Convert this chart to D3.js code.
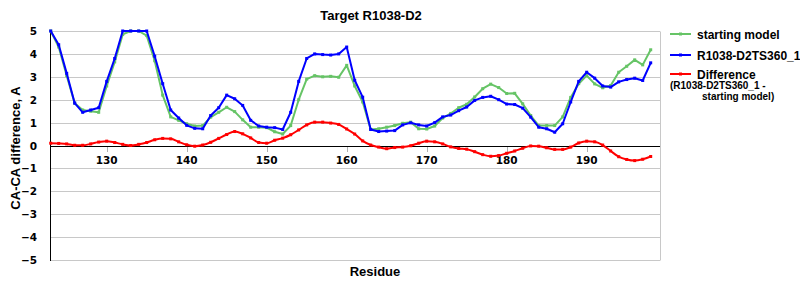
<!DOCTYPE html>
<html><head><meta charset="utf-8">
<script src="https://cdn.jsdelivr.net/npm/d3@7"></script>
<style>
body{margin:0;background:#fff;}
svg{display:block;}
</style></head>
<body>
<svg id="chart" width="800" height="300"></svg>
<script>
const startResidue = 123;
const starting = [5.0,4.3,3.05,1.85,1.55,1.5,1.45,2.6,3.65,4.85,5.0,5.0,4.8,3.7,2.2,1.25,1.1,0.95,0.85,0.87,1.24,1.45,1.67,1.48,1.12,0.8,0.8,0.78,0.6,0.5,0.87,2.0,2.9,3.05,3.0,3.02,2.98,3.5,2.6,1.9,0.7,0.73,0.8,0.87,0.97,1.02,0.73,0.72,0.85,1.2,1.4,1.65,1.8,2.12,2.48,2.68,2.53,2.27,2.28,1.82,1.31,0.87,0.87,0.87,1.25,2.1,2.7,3.05,2.69,2.52,2.62,3.2,3.46,3.74,3.52,4.18];
const model = [5.0,4.4,3.15,1.85,1.45,1.55,1.65,2.8,3.8,5.0,5.0,5.0,5.0,3.9,2.7,1.55,1.2,0.88,0.75,0.73,1.31,1.65,2.2,2.04,1.75,1.1,0.85,0.8,0.78,0.7,1.45,2.8,3.8,4.0,3.97,3.95,4.0,4.3,2.85,2.11,0.7,0.61,0.63,0.65,0.9,0.99,0.9,0.85,1.0,1.25,1.33,1.52,1.68,1.97,2.1,2.15,2.0,1.81,1.79,1.63,1.24,0.8,0.73,0.58,0.95,1.9,2.8,3.2,2.94,2.6,2.55,2.78,2.88,2.94,2.84,3.61];
const difference = [0.1,0.09,0.07,0.01,0.01,0.07,0.15,0.19,0.13,0.05,0.0,0.05,0.13,0.25,0.31,0.29,0.16,0.03,-0.03,0.02,0.14,0.31,0.48,0.61,0.51,0.33,0.13,0.1,0.23,0.32,0.47,0.68,0.9,1.02,1.02,0.98,0.92,0.72,0.5,0.2,0.02,-0.07,-0.14,-0.09,-0.07,-0.01,0.1,0.19,0.16,0.07,-0.06,-0.13,-0.16,-0.27,-0.4,-0.47,-0.44,-0.34,-0.24,-0.12,-0.02,-0.03,-0.1,-0.17,-0.17,-0.07,0.11,0.19,0.16,0.02,-0.24,-0.49,-0.61,-0.66,-0.6,-0.48];
const xTicks = [130,140,150,160,170,180,190];
const yTicks = [5,4,3,2,1,0,-1,-2,-3,-4,-5];
const seriesNames = ["starting model","R1038-D2TS360_1","Difference"];
const seriesColors = ["#66c466","#0000ff","#ff0000"];

(function(){
const svg = d3.select("#chart");
const pLeft = 50, pRight = 660, pTop = 31, pBottom = 260;
const x = d3.scaleLinear().domain([123, 199]).range([pLeft + 0.7, pLeft + 0.7 + 76*8]);
const y = d3.scaleLinear().domain([-5, 5]).range([pBottom, pTop]);

// grid
svg.append("g").selectAll("line").data(yTicks.filter(d => d !== 0)).join("line")
  .attr("x1", pLeft).attr("x2", pRight)
  .attr("y1", d => Math.round(y(d)) + 0.5).attr("y2", d => Math.round(y(d)) + 0.5)
  .attr("stroke", "#c8c8c8").attr("stroke-width", 1);
svg.append("line").attr("x1", pRight + 0.5).attr("x2", pRight + 0.5)
  .attr("y1", Math.round(y(5)) + 0.5).attr("y2", Math.round(y(-5)) + 0.5)
  .attr("stroke", "#c8c8c8");

// x ticks
svg.append("g").selectAll("line").data(xTicks).join("line")
  .attr("x1", d => Math.round(x(d)) + 0.5).attr("x2", d => Math.round(x(d)) + 0.5)
  .attr("y1", Math.round(y(0))).attr("y2", Math.round(y(0)) + 6)
  .attr("stroke", "#b0b0b0");
svg.append("g").selectAll("text").data(xTicks).join("text")
  .attr("x", d => x(d)).attr("y", Math.round(y(0)) + 18)
  .attr("text-anchor", "middle")
  .attr("font-family", "DejaVu Sans, Verdana, sans-serif").attr("font-weight", "bold").attr("font-size", "10.5px")
  .text(d => d);

// y labels
svg.append("g").selectAll("text").data(yTicks).join("text")
  .attr("x", 37).attr("y", d => y(d) + 4)
  .attr("text-anchor", "end")
  .attr("font-family", "DejaVu Sans, Verdana, sans-serif").attr("font-weight", "bold").attr("font-size", "10.5px")
  .text(d => d < 0 ? "\u2212" + Math.abs(d) : d);

// axes lines
svg.append("line").attr("x1", pLeft).attr("x2", pRight)
  .attr("y1", Math.round(y(0)) + 0.5).attr("y2", Math.round(y(0)) + 0.5)
  .attr("stroke", "#000");
svg.append("line").attr("x1", pLeft + 0.5).attr("x2", pLeft + 0.5)
  .attr("y1", Math.round(y(5))).attr("y2", Math.round(y(-5)) + 1)
  .attr("stroke", "#000");

// series
const datasets = [starting, model, difference];
const curves = [d3.curveLinear, d3.curveLinear, d3.curveMonotoneX];
datasets.forEach((vals, i) => {
  const pts = vals.map((v, k) => [startResidue + k, v]);
  const line = d3.line().x(d => x(d[0])).y(d => y(d[1])).curve(curves[i]);
  svg.append("path").datum(pts).attr("d", line)
    .attr("fill", "none").attr("stroke", seriesColors[i]).attr("stroke-width", 2)
    .attr("stroke-linejoin", "round");
  svg.append("g").selectAll("rect").data(pts).join("rect")
    .attr("x", d => x(d[0]) - 1.5).attr("y", d => y(d[1]) - 1.5)
    .attr("width", 3).attr("height", 3).attr("fill", seriesColors[i]);
});

// title
svg.append("text").attr("x", 371).attr("y", 20).attr("text-anchor", "middle")
  .attr("font-family", "Liberation Sans, Arial, sans-serif").attr("font-weight", "bold").attr("font-size", "13px")
  .text("Target R1038-D2");
// axis titles
svg.append("text").attr("x", 375).attr("y", 276).attr("text-anchor", "middle")
  .attr("font-family", "Liberation Sans, Arial, sans-serif").attr("font-weight", "bold").attr("font-size", "13px")
  .text("Residue");
svg.append("text").attr("transform", "translate(20,148) rotate(-90)").attr("text-anchor", "middle")
  .attr("font-family", "Liberation Sans, Arial, sans-serif").attr("font-weight", "bold").attr("font-size", "13px")
  .text("CA-CA difference, A");

// legend
const legY = [34, 55, 74];
const leg = svg.append("g");
seriesNames.forEach((name, i) => {
  leg.append("line").attr("x1", 670).attr("x2", 691).attr("y1", legY[i]).attr("y2", legY[i])
    .attr("stroke", seriesColors[i]).attr("stroke-width", 2);
  leg.append("rect").attr("x", 679).attr("y", legY[i] - 1.5).attr("width", 3).attr("height", 3).attr("fill", seriesColors[i]);
  leg.append("text").attr("x", 697).attr("y", legY[i] + 4.5)
    .attr("font-family", "Liberation Sans, Arial, sans-serif").attr("font-weight", "bold").attr("font-size", "12px")
    .text(name);
});
leg.append("text").attr("x", 670).attr("y", 89)
  .attr("font-family", "Liberation Sans, Arial, sans-serif").attr("font-weight", "bold").attr("font-size", "10px")
  .text("(R1038-D2TS360_1 -");
leg.append("text").attr("x", 702).attr("y", 100)
  .attr("font-family", "Liberation Sans, Arial, sans-serif").attr("font-weight", "bold").attr("font-size", "10px")
  .text("starting model)");
})();
</script>
</body></html>
